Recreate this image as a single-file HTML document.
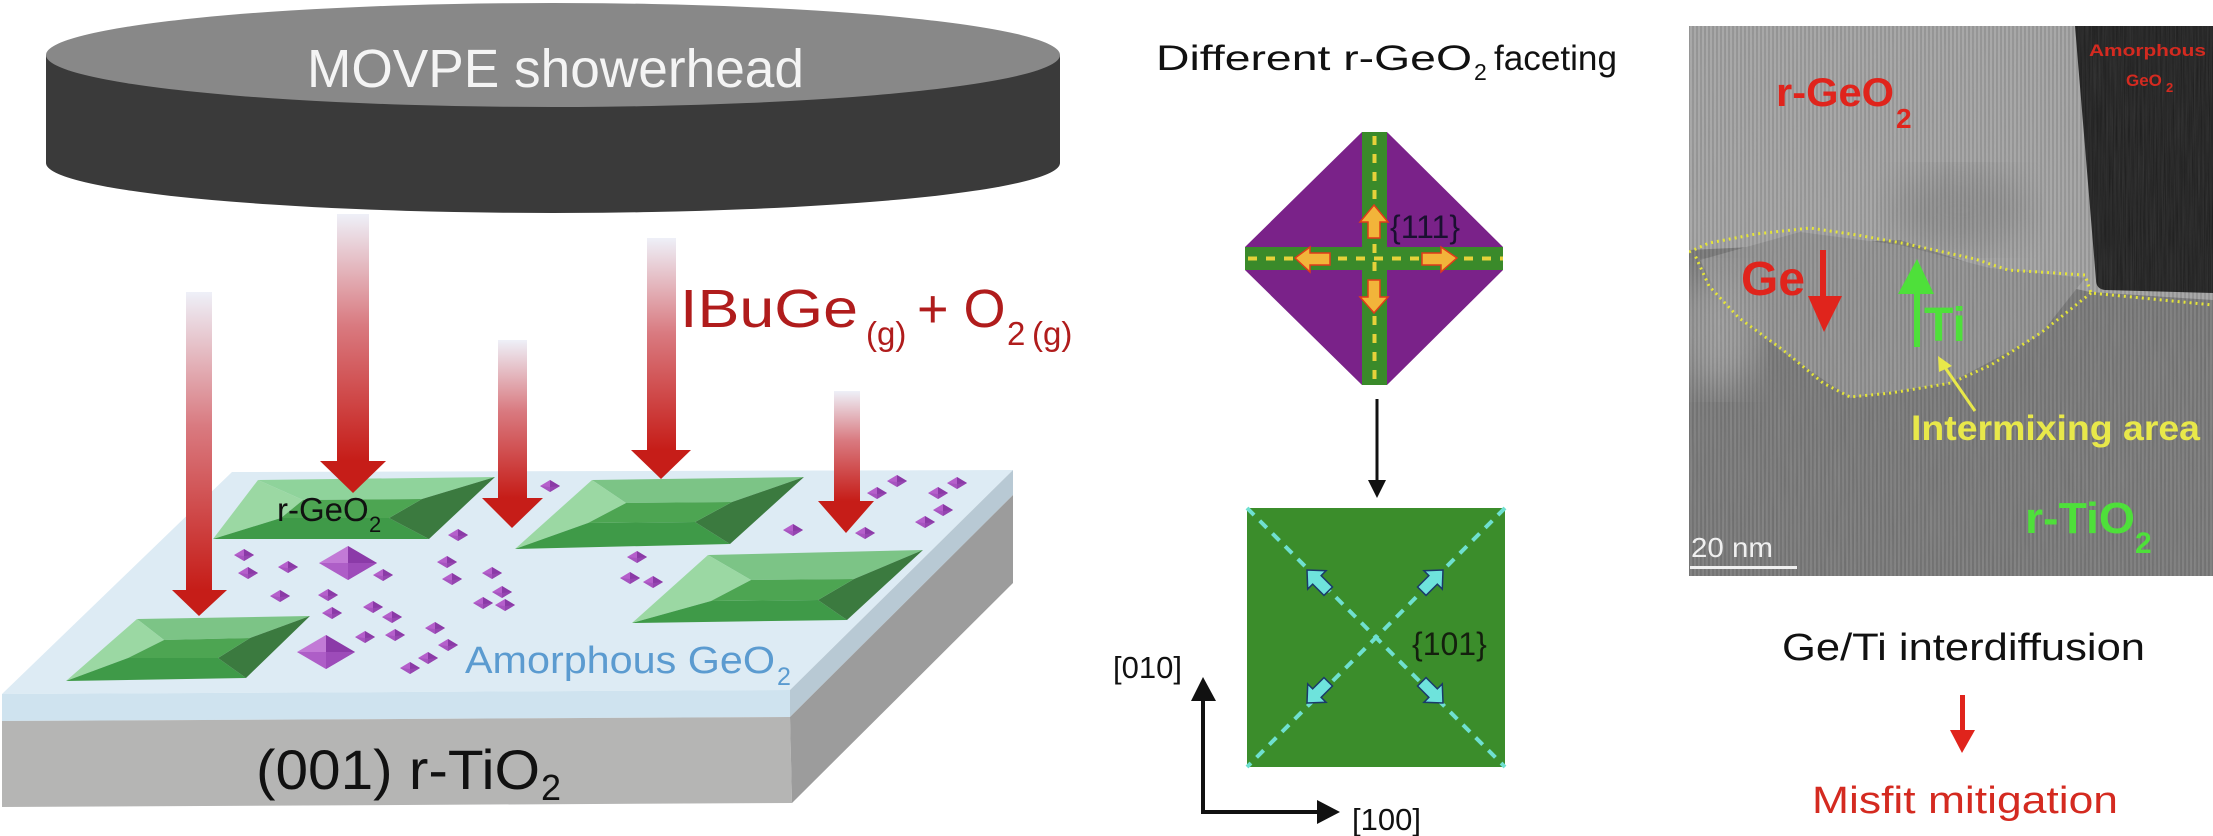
<!DOCTYPE html>
<html><head><meta charset="utf-8"><style>
html,body{margin:0;padding:0;background:#fff;}
svg{display:block;}
text{font-family:"Liberation Sans",sans-serif;}
</style></head><body>
<svg width="2213" height="836" viewBox="0 0 2213 836" xmlns="http://www.w3.org/2000/svg">
<defs>
<linearGradient id="ag" x1="0" y1="0" x2="0" y2="1">
<stop offset="0" stop-color="#eef0f8"/><stop offset="0.45" stop-color="#d97a80"/><stop offset="1" stop-color="#c61d18"/>
</linearGradient>
<g id="sp"><polygon points="-10,0 0,-6 10,0 0,6" fill="#b55fcb"/><polygon points="0,-6 10,0 0,6" fill="#8a3aa6"/><polygon points="-10,0 0,6 10,0 0,1" fill="#9c4cb8" opacity="0.6"/></g>
<g id="lp"><polygon points="-29,0 0,-17 29,0 0,17" fill="#c27ad6"/><polygon points="0,-17 29,0 0,17" fill="#8b3aa8"/><polygon points="-29,0 0,17 29,0 0,0" fill="#a552c0" opacity="0.7"/></g>
<filter id="noise" x="0" y="0" width="100%" height="100%"><feTurbulence type="fractalNoise" baseFrequency="0.9 0.02" numOctaves="2" seed="3"/><feColorMatrix type="matrix" values="0 0 0 0 0.5  0 0 0 0 0.5  0 0 0 0 0.5  0 0 0 0.35 0"/></filter>
<filter id="blur"><feGaussianBlur stdDeviation="18"/></filter>
<clipPath id="temclip"><rect x="1689" y="26" width="524" height="550"/></clipPath>
<pattern id="stripes" width="4" height="4" patternUnits="userSpaceOnUse"><rect width="2" height="4" fill="#000" opacity="0.12"/></pattern>
</defs>

<!-- Showerhead -->
<path d="M46,55 L46,163 A507,50 0 0 0 1060,163 L1060,55 Z" fill="#3a3a3a"/>
<ellipse cx="553" cy="55" rx="507" ry="52" fill="#888888"/>
<text x="307" y="87" font-size="54" fill="#f4f4f4" textLength="497" lengthAdjust="spacingAndGlyphs">MOVPE showerhead</text>

<!-- Slab -->
<polygon points="232,472 1013,470 790,690 2,694" fill="#ddebf4"/>
<polygon points="2,694 790,690 790,717 2,721" fill="#cfe3ef"/>
<polygon points="790,690 1013,470 1013,495 790,717" fill="#b8c9d4"/>
<polygon points="2,721 790,717 792,803 2,807" fill="#b5b5b4"/>
<polygon points="790,717 1013,495 1013,583 792,803" fill="#9c9c9c"/>
<text x="256" y="789" font-size="56" fill="#111" textLength="284" lengthAdjust="spacingAndGlyphs">(001) r-TiO</text>
<text x="541" y="800" font-size="36" fill="#111">2</text>

<!-- Frustums -->
<g>
<polygon points="258,480 495,477 422,499 303,500" fill="#8fd39b"/>
<polygon points="258,480 303,500 281,518 213,539" fill="#9bd8a3"/>
<polygon points="213,539 281,518 389,518 429,539" fill="#3f9a48"/>
<polygon points="495,477 429,539 389,518 422,499" fill="#3b7a3f"/>
<polygon points="303,500 422,499 389,518 281,518" fill="#4da552"/>
</g>
<g>
<polygon points="592,480 804,477 732,502 626,503" fill="#7cc486"/>
<polygon points="592,480 626,503 588,523 515,549" fill="#9bd8a3"/>
<polygon points="515,549 588,523 695,522 730,544" fill="#3f9a48"/>
<polygon points="804,477 730,544 695,522 732,502" fill="#3b7a3f"/>
<polygon points="626,503 732,502 695,522 588,523" fill="#4da552"/>
</g>
<g>
<polygon points="137,619 310,616 250,638 164,640" fill="#7cc486"/>
<polygon points="137,619 164,640 128,658 66,681" fill="#9bd8a3"/>
<polygon points="66,681 128,658 218,658 246,678" fill="#3f9a48"/>
<polygon points="310,616 246,678 218,658 250,638" fill="#3b7a3f"/>
<polygon points="164,640 250,638 218,658 128,658" fill="#4da552"/>
</g>
<g>
<polygon points="708,555 923,550 854,579 751,580" fill="#7cc486"/>
<polygon points="708,555 751,580 711,601 632,623" fill="#9bd8a3"/>
<polygon points="632,623 711,601 818,600 847,620" fill="#3f9a48"/>
<polygon points="923,550 847,620 818,600 854,579" fill="#3b7a3f"/>
<polygon points="751,580 854,579 818,600 711,601" fill="#4da552"/>
</g>

<!-- purple pyramids -->
<use href="#lp" x="348" y="563"/><use href="#lp" x="326" y="652"/>
<use href="#sp" x="244" y="555"/><use href="#sp" x="248" y="573"/><use href="#sp" x="288" y="567"/><use href="#sp" x="383" y="575"/>
<use href="#sp" x="280" y="596"/><use href="#sp" x="328" y="595"/><use href="#sp" x="332" y="613"/><use href="#sp" x="373" y="607"/>
<use href="#sp" x="392" y="617"/><use href="#sp" x="365" y="637"/><use href="#sp" x="395" y="635"/><use href="#sp" x="435" y="628"/>
<use href="#sp" x="448" y="645"/><use href="#sp" x="428" y="658"/><use href="#sp" x="410" y="668"/><use href="#sp" x="458" y="535"/>
<use href="#sp" x="447" y="562"/><use href="#sp" x="452" y="579"/><use href="#sp" x="492" y="573"/><use href="#sp" x="502" y="592"/>
<use href="#sp" x="483" y="603"/><use href="#sp" x="505" y="605"/><use href="#sp" x="550" y="486"/>
<use href="#sp" x="793" y="530"/><use href="#sp" x="865" y="533"/><use href="#sp" x="877" y="493"/><use href="#sp" x="897" y="481"/>
<use href="#sp" x="938" y="493"/><use href="#sp" x="957" y="483"/><use href="#sp" x="943" y="510"/><use href="#sp" x="925" y="522"/>
<use href="#sp" x="637" y="557"/><use href="#sp" x="630" y="578"/><use href="#sp" x="653" y="582"/>

<text x="277" y="521" font-size="33" fill="#111">r-GeO</text>
<text x="369" y="532" font-size="22" fill="#111">2</text>
<text x="465" y="673" font-size="38" fill="#5b9bd0" textLength="310" lengthAdjust="spacingAndGlyphs">Amorphous GeO</text>
<text x="777" y="685" font-size="25" fill="#5b9bd0">2</text>

<!-- red arrows -->
<rect x="186" y="292" width="26" height="298" fill="url(#ag)"/><polygon points="172,590 227,590 199,616" fill="#c61d18"/>
<rect x="337" y="214" width="32" height="247" fill="url(#ag)"/><polygon points="320,461 386,461 353,493" fill="#c61d18"/>
<rect x="498" y="340" width="29" height="158" fill="url(#ag)"/><polygon points="482,498 543,498 512,528" fill="#c61d18"/>
<rect x="647" y="238" width="29" height="212" fill="url(#ag)"/><polygon points="631,450 691,450 661,479" fill="#c61d18"/>
<rect x="834" y="391" width="26" height="110" fill="url(#ag)"/><polygon points="818,501 874,501 846,533" fill="#c61d18"/>

<text x="680" y="327" font-size="54" fill="#b01c1c" textLength="178" lengthAdjust="spacingAndGlyphs">IBuGe</text>
<text x="866" y="345" font-size="33" fill="#b01c1c">(g)</text>
<text x="917" y="327" font-size="54" fill="#b01c1c">+ O</text>
<text x="1007" y="345" font-size="33" fill="#b01c1c">2</text>
<text x="1032" y="345" font-size="33" fill="#b01c1c">(g)</text>

<!-- Middle panel -->
<text x="1156" y="70" font-size="35" fill="#111" textLength="316" lengthAdjust="spacingAndGlyphs">Different r-GeO</text>
<text x="1474" y="80" font-size="23" fill="#111">2</text>
<text x="1494" y="70" font-size="35" fill="#111" textLength="123" lengthAdjust="spacingAndGlyphs">faceting</text>

<polygon points="1362,132 1387,132 1503,247 1503,270 1387,385 1362,385 1245,270 1245,247" fill="#7a2289"/>
<rect x="1362" y="132" width="25" height="253" fill="#3a8a2a"/>
<rect x="1245" y="247" width="258" height="23" fill="#3a8a2a"/>
<line x1="1374.5" y1="136" x2="1374.5" y2="385" stroke="#e6d23a" stroke-width="4" stroke-dasharray="9,9"/>
<line x1="1248" y1="258.5" x2="1503" y2="258.5" stroke="#e6d23a" stroke-width="4" stroke-dasharray="9,9"/>
<g fill="#f2b43a" stroke="#e03a1a" stroke-width="1.5">
<polygon points="1374,205 1388,222 1380,222 1380,238 1368,238 1368,222 1360,222"/>
<polygon points="1374,313 1388,297 1380,297 1380,280 1368,280 1368,297 1360,297"/>
<polygon points="1295,258 1310,247 1310,253 1330,253 1330,265 1310,265 1310,272"/>
<polygon points="1457,258 1441,247 1441,253 1422,253 1422,265 1441,265 1441,272"/>
</g>
<text x="1390" y="238" font-size="32" fill="#1a1030">{111}</text>

<line x1="1377" y1="399" x2="1377" y2="482" stroke="#111" stroke-width="3"/>
<polygon points="1368,480 1386,480 1377,498" fill="#111"/>

<rect x="1247" y="508" width="258" height="259" fill="#3b8d2b"/>
<line x1="1247" y1="508" x2="1505" y2="767" stroke="#6fe0d0" stroke-width="4" stroke-dasharray="10,8"/>
<line x1="1505" y1="508" x2="1247" y2="767" stroke="#6fe0d0" stroke-width="4" stroke-dasharray="10,8"/>
<g fill="#6ee3dc" stroke="#1a3a6a" stroke-width="1.5">
<g transform="translate(1307,570) rotate(-135)"><polygon points="0,0 -14,-13 -14,-6 -30,-6 -30,6 -14,6 -14,13"/></g>
<g transform="translate(1443,570) rotate(-45)"><polygon points="0,0 -14,-13 -14,-6 -30,-6 -30,6 -14,6 -14,13"/></g>
<g transform="translate(1307,703) rotate(135)"><polygon points="0,0 -14,-13 -14,-6 -30,-6 -30,6 -14,6 -14,13"/></g>
<g transform="translate(1443,703) rotate(45)"><polygon points="0,0 -14,-13 -14,-6 -30,-6 -30,6 -14,6 -14,13"/></g>
</g>
<text x="1412" y="655" font-size="32" fill="#14200e">{101}</text>

<polyline points="1203,700 1203,812 1318,812" fill="none" stroke="#111" stroke-width="4"/>
<polygon points="1191,701 1216,701 1203,677" fill="#111"/>
<polygon points="1317,800 1317,824 1340,812" fill="#111"/>
<text x="1113" y="678" font-size="31" fill="#111">[010]</text>
<text x="1352" y="830" font-size="31" fill="#111">[100]</text>

<!-- TEM image -->
<g clip-path="url(#temclip)">
<rect x="1689" y="26" width="524" height="550" fill="#7c7c7c"/>
<path d="M1689,26 L2213,26 L2213,300 L2090,292 L1990,270 L1900,240 L1689,250 Z" fill="#a6a6a6"/>
<path d="M1700,260 L1800,232 L1900,245 L1990,268 L2085,278 L2040,335 L1950,383 L1850,398 L1780,350 L1720,300 Z" fill="#959595"/>
<ellipse cx="1720" cy="330" rx="40" ry="60" fill="#a0a0a0" filter="url(#blur)"/>
<ellipse cx="1960" cy="210" rx="70" ry="40" fill="#929292" filter="url(#blur)"/>
<path d="M2075,26 L2213,26 L2213,293 L2105,290 Q2096,289 2096,280 Z" fill="#1e1e1e"/>
<rect x="1689" y="26" width="524" height="550" fill="url(#stripes)"/>
<rect x="1689" y="26" width="524" height="550" filter="url(#noise)" opacity="0.5"/>
<path d="M1689,252 L1709,243 L1756,234 L1810,228 L1857,235 L1907,244 L1975,259 L2008,270 L2085,275 L2091,293 L2213,305" fill="none" stroke="#e4e43a" stroke-width="3" stroke-dasharray="2,4"/>
<path d="M2091,293 L2042,332 L1991,365 L1951,383 L1891,393 L1850,397 L1823,383 L1783,350 L1739,318 L1709,286 L1694,253" fill="none" stroke="#e4e43a" stroke-width="3" stroke-dasharray="2,4"/>
<text x="1776" y="106" font-size="40" font-weight="bold" fill="#e0241c" textLength="118" lengthAdjust="spacingAndGlyphs">r-GeO</text>
<text x="1896" y="128" font-size="28" font-weight="bold" fill="#e0241c">2</text>
<text x="2089" y="56" font-size="17" font-weight="bold" fill="#d42a20" textLength="117" lengthAdjust="spacingAndGlyphs">Amorphous</text>
<text x="2126" y="86" font-size="17" font-weight="bold" fill="#d42a20">GeO</text>
<text x="2166" y="92" font-size="13" font-weight="bold" fill="#d42a20">2</text>
<text x="1741" y="295" font-size="48" font-weight="bold" fill="#e0241c" textLength="64" lengthAdjust="spacingAndGlyphs">Ge</text>
<rect x="1820" y="250" width="6" height="48" fill="#e0241c"/><polygon points="1808,296 1842,296 1824,332" fill="#e0241c"/>
<rect x="1914" y="292" width="6" height="55" fill="#4ee03a"/><polygon points="1898,294 1934,294 1917,259" fill="#4ee03a"/>
<text x="1924" y="341" font-size="48" font-weight="bold" fill="#4ee03a">Ti</text>
<line x1="1975" y1="411" x2="1944" y2="366" stroke="#e8e84a" stroke-width="3"/>
<polygon points="1938,356 1952,366 1939,372" fill="#e8e84a"/>
<text x="1911" y="440" font-size="35" font-weight="bold" fill="#e8e84a" textLength="289" lengthAdjust="spacingAndGlyphs">Intermixing area</text>
<text x="2025" y="533" font-size="44" font-weight="bold" fill="#4ee03a" textLength="110" lengthAdjust="spacingAndGlyphs">r-TiO</text>
<text x="2135" y="553" font-size="30" font-weight="bold" fill="#4ee03a">2</text>
<text x="1691" y="557" font-size="28" fill="#f0f0f0" textLength="82" lengthAdjust="spacingAndGlyphs">20 nm</text>
<rect x="1690" y="566" width="107" height="3" fill="#f0f0f0"/>
</g>

<text x="1782" y="660" font-size="38" fill="#111" textLength="363" lengthAdjust="spacingAndGlyphs">Ge/Ti interdiffusion</text>
<rect x="1960" y="695" width="5" height="37" fill="#e0241c"/><polygon points="1950,730 1975,730 1962,753" fill="#e0241c"/>
<text x="1812" y="813" font-size="38" fill="#d42a20" textLength="306" lengthAdjust="spacingAndGlyphs">Misfit mitigation</text>
</svg>
</body></html>
